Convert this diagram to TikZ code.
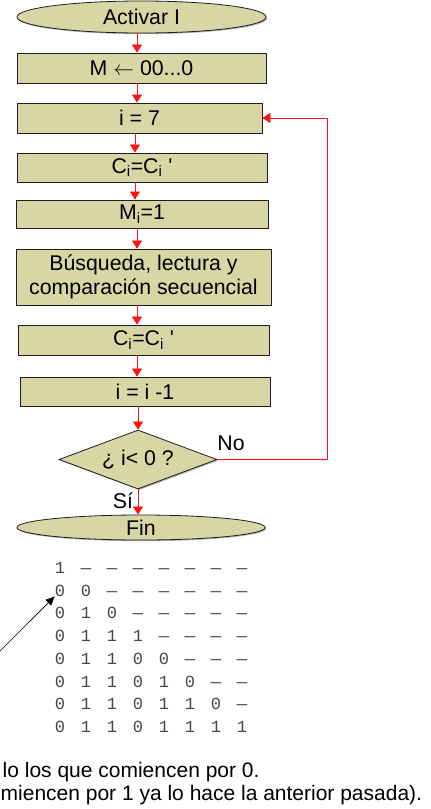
\documentclass[tikz,border=0pt]{standalone}
\usepackage{fontspec}
\setmainfont{Liberation Sans}
\newfontfamily\monof{Liberation Mono}
\usetikzlibrary{arrows.meta,shapes.geometric,shadows}
\definecolor{boxfill}{RGB}{216,214,165}
\definecolor{edgec}{RGB}{30,30,30}
\definecolor{monogray}{RGB}{70,70,70}
\definecolor{flowred}{RGB}{255,20,20}
\newcommand{\bitdash}{\scalebox{1.45}[1]{–}}
\begin{document}
\begin{tikzpicture}[x=1pt,y=-1pt,
  every node/.style={font=\fontsize{21.3}{24}\selectfont},
  blk/.style={draw=edgec, line width=0.8pt, fill=boxfill, inner sep=0pt,
    drop shadow={shadow xshift=1.2pt, shadow yshift=-1.2pt, fill=black, opacity=0.3}},
  rbox/.style={blk, rectangle},
  ebox/.style={blk, ellipse},
  arr/.style={draw=flowred, line width=0.7pt, -{Triangle[width=10pt,length=8pt]}},
  lbl/.style={inner sep=0pt},
  cell/.style={font=\monof\fontsize{17}{17}\selectfont, text=monogray, inner sep=0pt,
    text height=11pt, text depth=0pt},
  note/.style={inner sep=0pt, font=\fontsize{21}{24}\selectfont}
]
\useasboundingbox (0,0) rectangle (431,809);
\clip (0,0) rectangle (431,809);

% flowchart nodes
\node[ebox, minimum width=249pt, minimum height=32pt] (act) at (141.5,17) {Activar I};
\node[rbox, minimum width=249pt, minimum height=30pt] (m0) at (141.5,68) {M $\leftarrow$ 00...0};
\node[rbox, minimum width=245pt, minimum height=30pt] (i7) at (139.5,118) {i = 7};
\node[rbox, minimum width=250pt, minimum height=29pt] (c1) at (142,167.5) {C\textsubscript{i}=C\textsubscript{i} \textquotesingle};
\node[rbox, minimum width=252pt, minimum height=28pt] (mi) at (142,214) {M\textsubscript{i}=1};
\node[rbox, minimum width=255pt, minimum height=56pt, align=center] (bus) at (143.5,277) {Búsqueda, lectura y\\comparación secuencial};
\node[rbox, minimum width=251pt, minimum height=30pt] (c2) at (143.5,340) {C\textsubscript{i}=C\textsubscript{i} \textquotesingle};
\node[rbox, minimum width=250pt, minimum height=29pt] (dec) at (145,391.5) {i = i -1};
\node[blk, diamond, minimum width=158pt, minimum height=59pt, shape aspect=2.68] (dia) at (138,459.5) {¿ i< 0 ?};
\node[ebox, minimum width=248pt, minimum height=25pt] (fin) at (141,527.5) {Fin};

\node[lbl] (no) at (231,443) {No};
\node[lbl] (si) at (123,501) {Sí};

% spine coordinates
\coordinate (s1) at (137,0);
\coordinate (s2) at (135,0);
\coordinate (lp) at (327,0);

\draw[arr] (act.south -| s1) -- (m0.north -| s1);
\draw[arr] (m0.south -| s1) -- (i7.north -| s1);
\draw[arr] (i7.south -| s2) -- (c1.north -| s2);
\draw[arr] (c1.south -| s2) -- (mi.north -| s2);
\draw[arr] (mi.south -| s1) -- (bus.north -| s1);
\draw[arr] (bus.south -| s1) -- (c2.north -| s1);
\draw[arr] (c2.south -| s1) -- (dec.north -| s1);
\draw[arr] (dec.south -| dia.north) -- (dia.north);
\draw[arr] (dia.south) -- (fin.north -| dia.south);
\draw[arr] (dia.east) -- (dia.east -| lp) -- (i7.east -| lp) -- (i7.east);

% bit table
\foreach \row [count=\r] in {
  {1,\bitdash,\bitdash,\bitdash,\bitdash,\bitdash,\bitdash,\bitdash},
  {0,0,\bitdash,\bitdash,\bitdash,\bitdash,\bitdash,\bitdash},
  {0,1,0,\bitdash,\bitdash,\bitdash,\bitdash,\bitdash},
  {0,1,1,1,\bitdash,\bitdash,\bitdash,\bitdash},
  {0,1,1,0,0,\bitdash,\bitdash,\bitdash},
  {0,1,1,0,1,0,\bitdash,\bitdash},
  {0,1,1,0,1,1,0,\bitdash},
  {0,1,1,0,1,1,1,1}} {
  \foreach \c [count=\k] in \row {
    \node[cell] (n\r-\k) at ({60+26*(\k-1)},{568+22.7*(\r-1)}) {\c};
  }
}

\coordinate (ast) at (-25,676);
\draw[line width=0.6pt, -{Triangle[width=8pt,length=9pt]}] (ast) -- (n2-1.south west);

% bottom notes
\node[note, anchor=base west] (t1) at (2.5,777) {lo los que comiencen por 0.};
\node[note, anchor=base west] (t2) at (0.5,800.5) {miencen por 1 ya lo hace la anterior pasada).};
\end{tikzpicture}
\end{document}
